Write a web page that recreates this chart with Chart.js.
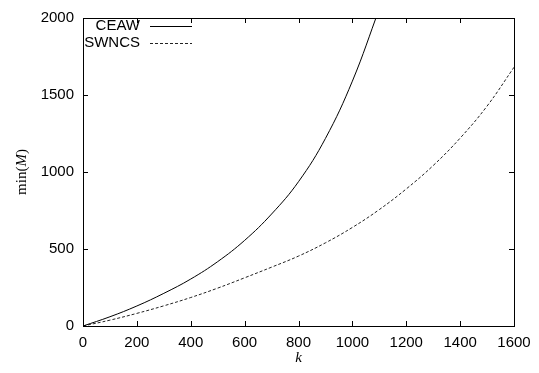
<!DOCTYPE html>
<html>
<head>
<meta charset="utf-8">
<script src="https://cdn.jsdelivr.net/npm/chart.js@4/dist/chart.umd.min.js"></script>
<style>
  html, body { margin: 0; padding: 0; background: #fff; }
  #wrap { width: 539px; height: 373px; position: relative; }
</style>
</head>
<body>
<div id="wrap"><canvas id="c" width="539" height="373"></canvas></div>
<script>
// ---- data ----
const xTicks = [0, 200, 400, 600, 800, 1000, 1200, 1400, 1600];
const yTicks = [0, 500, 1000, 1500, 2000];
const ceawK   = [0, 100, 200, 300, 400, 500, 600, 700, 800, 900, 1000, 1100];
const ceawVal = [0, 60, 130, 212, 305, 418, 556, 727, 937, 1218, 1590, 2060];
const swncsK   = [0, 100, 200, 300, 400, 500, 600, 700, 800, 900, 1000, 1100, 1200, 1300, 1400, 1500, 1600];
const swncsVal = [0, 38, 82, 131, 185, 246, 313, 382, 454, 540, 640, 756, 890, 1042, 1220, 1428, 1680];
const seriesNames = ['CEAW', 'SWNCS'];
const xTitle = 'k';

const toPts = (ks, vs) => ks.map((k, i) => ({ x: k, y: vs[i] }));

const SANS = '"Liberation Sans", Arial, Helvetica, sans-serif';
const SERIF = '"Liberation Serif", "Times New Roman", serif';

const framePlugin = {
  id: 'frame',
  afterDraw(chart) {
    const { ctx, chartArea: a, scales } = chart;
    ctx.save();
    ctx.strokeStyle = '#000';
    ctx.lineWidth = 1;
    ctx.strokeRect(Math.round(a.left) + 0.5, Math.round(a.top) + 0.5,
                   Math.round(a.right - a.left), Math.round(a.bottom - a.top));
    const tl = 5;
    ctx.beginPath();
    scales.x.ticks.forEach(t => {
      const px = Math.round(scales.x.getPixelForValue(t.value)) + 0.5;
      ctx.moveTo(px, a.bottom); ctx.lineTo(px, a.bottom - tl);
      ctx.moveTo(px, a.top); ctx.lineTo(px, a.top + tl);
    });
    scales.y.ticks.forEach(t => {
      const py = Math.round(scales.y.getPixelForValue(t.value)) + 0.5;
      ctx.moveTo(a.left, py); ctx.lineTo(a.left + tl, py);
      ctx.moveTo(a.right, py); ctx.lineTo(a.right - tl, py);
    });
    ctx.stroke();

    // legend (gnuplot style, inside top-left)
    ctx.font = '15px ' + SANS;
    ctx.fillStyle = '#000';
    ctx.textAlign = 'right';
    ctx.textBaseline = 'middle';
    const legY = [26, 43];
    chart.data.datasets.forEach((d, i) => {
      ctx.fillText(d.label, 140, legY[i]);
      ctx.beginPath();
      ctx.setLineDash(d.borderDash || []);
      ctx.strokeStyle = d.borderColor;
      ctx.moveTo(150, legY[i] + 0.5); ctx.lineTo(192, legY[i] + 0.5);
      ctx.stroke();
    });
    ctx.setLineDash([]);

    // y-axis title: min(M) with italic M
    ctx.save();
    ctx.translate(22, (a.top + a.bottom) / 2);
    ctx.rotate(-Math.PI / 2);
    ctx.textAlign = 'left';
    ctx.textBaseline = 'middle';
    ctx.fillStyle = '#000';
    const parts = [['min(', '15px ' + SERIF], ['M', 'italic 15px ' + SERIF], [')', '15px ' + SERIF]];
    let w = 0;
    parts.forEach(p => { ctx.font = p[1]; w += ctx.measureText(p[0]).width; });
    let x = -w / 2;
    parts.forEach(p => { ctx.font = p[1]; ctx.fillText(p[0], x, 0); x += ctx.measureText(p[0]).width; });
    ctx.restore();
    ctx.restore();
  }
};

new Chart(document.getElementById('c'), {
  type: 'line',
  data: {
    datasets: [
      { label: seriesNames[0], data: toPts(ceawK, ceawVal), borderColor: '#000', borderWidth: 1,
        pointRadius: 0, tension: 0.4, fill: false },
      { label: seriesNames[1], data: toPts(swncsK, swncsVal), borderColor: '#222', borderWidth: 1,
        borderDash: [3, 2], pointRadius: 0, tension: 0.4, fill: false }
    ]
  },
  options: {
    responsive: false,
    animation: false,
    devicePixelRatio: 1,
    layout: { padding: { top: 14, right: 25, left: 0, bottom: 0 } },
    plugins: { legend: { display: false }, tooltip: { enabled: false } },
    scales: {
      x: {
        type: 'linear', min: 0, max: 1600,
        afterBuildTicks: s => { s.ticks = xTicks.map(v => ({ value: v })); },
        afterFit: s => { s.height = 47; },
        grid: { display: false, drawTicks: false },
        border: { display: false },
        ticks: { color: '#000', font: { family: SANS, size: 15 }, padding: 8, maxRotation: 0,
                 callback: v => String(v) },
        title: { display: true, text: xTitle, color: '#000', font: { family: SERIF, size: 15, style: 'italic' }, padding: { top: 0, bottom: 6 } }
      },
      y: {
        type: 'linear', min: 0, max: 2000,
        afterBuildTicks: s => { s.ticks = yTicks.map(v => ({ value: v })); },
        afterFit: s => { s.width = 83; },
        grid: { display: false, drawTicks: false },
        border: { display: false },
        ticks: { color: '#000', font: { family: SANS, size: 15 }, padding: 9,
                 callback: v => String(v) }
      }
    }
  },
  plugins: [framePlugin]
});
</script>
</body>
</html>
